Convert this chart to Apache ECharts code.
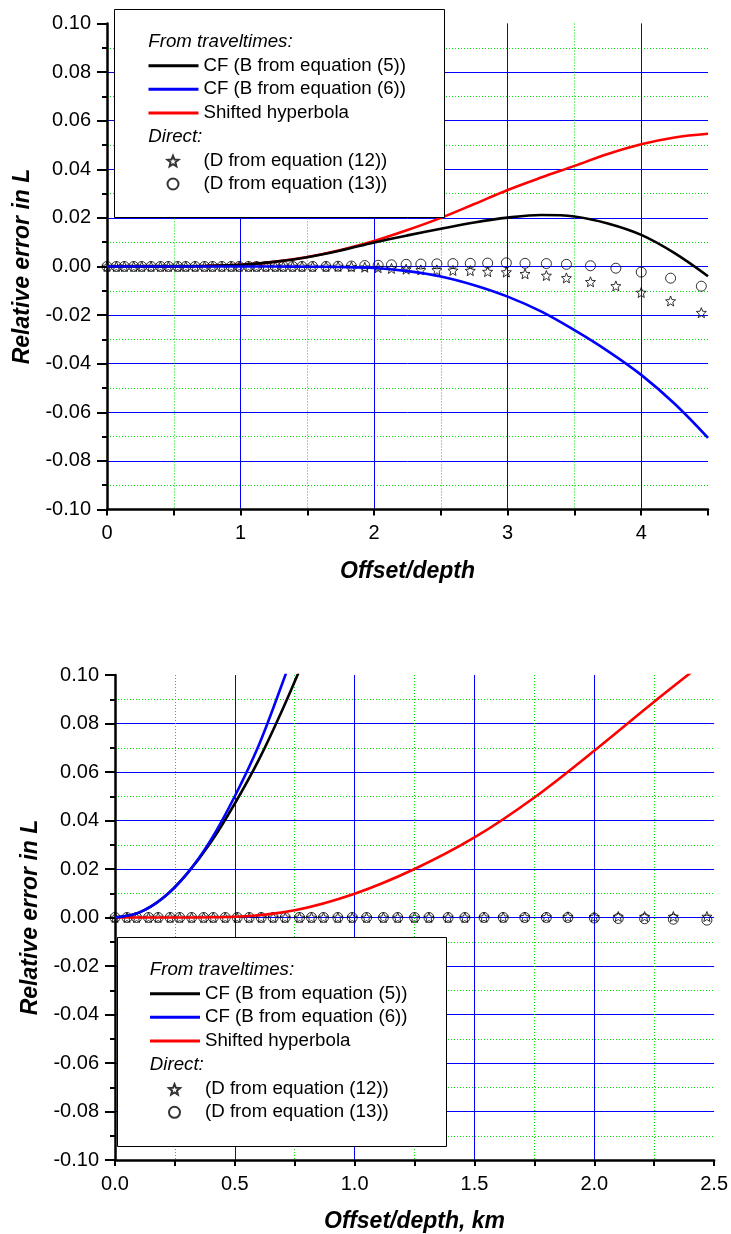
<!DOCTYPE html>
<html><head><meta charset="utf-8">
<script src="https://cdn.jsdelivr.net/npm/echarts@6/dist/echarts.min.js"></script>
<style>html,body{margin:0;padding:0;background:#fff}#c{width:731px;height:1234px}</style>
</head><body><div id="c"></div>
<script>
const FONT = '"Liberation Sans", Arial, sans-serif';

// ---------- Top panel (x = offset/depth) ----------
const topCurveX  = [0,0.25,0.5,0.75,1,1.25,1.5,1.75,2,2.25,2.5,2.75,3,3.25,3.5,3.75,4,4.25,4.5];
const topBlack   = [0,0,0,0.0002,0.0007,0.0019,0.0038,0.0066,0.0099,0.0128,0.0155,0.0181,0.0201,0.0212,0.0206,0.0177,0.0130,0.0055,-0.0040];
const topBlue    = [0,0,0,0,0,0,-0.0001,-0.0002,-0.0006,-0.0019,-0.0041,-0.0077,-0.0124,-0.0185,-0.0262,-0.0348,-0.0446,-0.0565,-0.0705];
const topRed     = [0,0,0,0.0002,0.0007,0.0019,0.0039,0.0068,0.0105,0.0150,0.0200,0.0257,0.0315,0.0366,0.0414,0.0463,0.0503,0.0531,0.0546];
const topMarkX   = [0.00,0.07,0.13,0.20,0.26,0.33,0.40,0.46,0.53,0.59,0.66,0.73,0.79,0.86,0.93,0.99,1.06,1.12,1.19,1.26,1.32,1.39,1.46,1.54,1.64,1.73,1.83,1.93,2.03,2.13,2.24,2.35,2.47,2.59,2.72,2.85,2.99,3.13,3.29,3.44,3.62,3.81,4.00,4.22,4.45];
const topCircleY = [0,0,0,0,0,0,0,0,0,0,0,0,0,0,0,0,0,0,0,0,0,0,0,0,0,0.0001,0.0002,0.0004,0.0005,0.0007,0.0009,0.0010,0.0011,0.0012,0.0013,0.0014,0.0015,0.0013,0.0012,0.0009,0.0003,-0.0007,-0.0023,-0.0048,-0.0081];
const topStarY   = [0,0,0,0,0,0,0,0,0,0,0,0,0,0,0,0,0,0,0,0,0,0,0,0,0,0,-0.0001,-0.0003,-0.0005,-0.0008,-0.0011,-0.0014,-0.0014,-0.0016,-0.0017,-0.0021,-0.0023,-0.0030,-0.0037,-0.0047,-0.0063,-0.0080,-0.0107,-0.0142,-0.0190];

// ---------- Bottom panel (x = offset/depth, km) ----------
const botBlackX  = [0,0.1,0.2,0.3,0.4,0.5,0.6,0.7,0.8];
const botBlack   = [0,0.002,0.008,0.018,0.031,0.047,0.065,0.086,0.109];
const botBlueX   = [0,0.1,0.2,0.3,0.4,0.5,0.6,0.7,0.75];
const botBlue    = [0,0.002,0.008,0.018,0.032,0.050,0.071,0.097,0.111];
const botRedX    = [0,0.25,0.5,0.75,1.0,1.25,1.5,1.75,2.0,2.25,2.5];
const botRed     = [0,0,0.0003,0.0030,0.0098,0.0200,0.0330,0.0495,0.0688,0.0890,0.1085];
const botMarkX   = [0.00,0.05,0.09,0.14,0.18,0.23,0.27,0.32,0.37,0.41,0.46,0.51,0.56,0.61,0.66,0.71,0.77,0.82,0.87,0.93,0.99,1.05,1.12,1.18,1.25,1.31,1.39,1.46,1.54,1.62,1.71,1.80,1.89,2.00,2.10,2.21,2.33,2.47];
const botCircleY = [0,0,0,0,0,0,0,0,0,0,0,0,0,0,0,0,0,0,0,0,0,0,0,0,0,0,0,0,0,0,0,0,0,-0.0002,-0.0004,-0.0005,-0.0007,-0.0011];
const botStarY   = [0,0,0,0,0,0,0,0,0,0,0,0,0,0,0,0,0,0,0,0,0,0,0,0,0,0,0,0,0.0001,0.0001,0.0002,0.0002,0.0003,0.0003,0.0004,0.0004,0.0004,0.0004];

const yTicks = [-0.10,-0.08,-0.06,-0.04,-0.02,0.00,0.02,0.04,0.06,0.08,0.10];

const N_CF5 = 'CF (B from equation (5))';
const N_CF6 = 'CF (B from equation (6))';
const N_SH  = 'Shifted hyperbola';
const N_D12 = '(D from equation (12))';
const N_D13 = '(D from equation (13))';

const STAR = 'path://M50,0L62.9,32.2L97.6,34.5L70.9,56.8L79.4,90.5L50,72L20.6,90.5L29.1,56.8L2.4,34.5L37.1,32.2Z';

function pairs(xs, ys){ return xs.map((x,i)=>[x, ys[i]]); }

const BLUE = '#0000ff', GREEN = '#00dd00';
const tickFont = {fontSize:20, color:'#000', fontFamily:FONT};
const titleFont = {fontSize:23, fontWeight:'bold', fontStyle:'italic', color:'#000', fontFamily:FONT};

function yAxisDef(grid){
  return {
    gridIndex:grid, type:'value', min:yTicks[0], max:yTicks[yTicks.length-1], interval:0.02,
    name:'Relative error in L', nameLocation:'middle', nameGap:73, nameTextStyle:titleFont,
    axisLine:{show:true, onZero:false, lineStyle:{color:'#000', width:2.5}},
    axisTick:{show:true, inside:false, length:10, lineStyle:{color:'#000', width:2}},
    minorTick:{show:true, splitNumber:2, length:5, lineStyle:{color:'#000', width:2}},
    axisLabel:{...tickFont, margin:16, formatter:v => (Math.abs(v)<1e-9 ? 0 : v).toFixed(2)},
    splitLine:{show:true, showMinLine:false, showMaxLine:false, lineStyle:{color:BLUE, width:1}},
    minorSplitLine:{show:true, lineStyle:{color:GREEN, width:1, type:[1,2]}}
  };
}

const xAxes = [
  // top minor (0.5 steps) – green dotted grid + ticks
  { gridIndex:0, type:'value', min:0, max:4.5, interval:0.5, position:'bottom',
    axisLine:{show:false, onZero:false}, axisLabel:{show:false},
    axisTick:{show:true, length:6, lineStyle:{color:'#000', width:2}},
    splitLine:{show:true, showMinLine:false, showMaxLine:false, lineStyle:{color:GREEN, width:1, type:[1,2]}} },
  // top main (1 steps)
  { gridIndex:0, type:'value', min:0, max:4.5, interval:1, position:'bottom',
    name:'Offset/depth', nameLocation:'middle', nameGap:51, nameTextStyle:titleFont,
    axisLine:{show:true, onZero:false, lineStyle:{color:'#000', width:2.5}},
    axisTick:{show:true, length:6, lineStyle:{color:'#000', width:2}},
    axisLabel:{...tickFont, margin:14, formatter:v => (Math.abs(v - Math.round(v))<1e-9 ? String(Math.round(v)) : '')},
    splitLine:{show:true, showMinLine:false, showMaxLine:false, lineStyle:{color:BLUE, width:1}} },
  // bottom
  { gridIndex:1, type:'value', min:0, max:2.5, interval:0.5, position:'bottom',
    name:'Offset/depth, km', nameLocation:'middle', nameGap:50, nameTextStyle:titleFont,
    axisLine:{show:true, onZero:false, lineStyle:{color:'#000', width:2.5}},
    axisTick:{show:true, length:6, lineStyle:{color:'#000', width:2}},
    minorTick:{show:true, splitNumber:2, length:6, lineStyle:{color:'#000', width:2}},
    axisLabel:{...tickFont, margin:14, formatter:v => v.toFixed(1)},
    splitLine:{show:true, showMinLine:false, showMaxLine:false, lineStyle:{color:BLUE, width:1}},
    minorSplitLine:{show:true, lineStyle:{color:GREEN, width:1, type:[1,2]}} }
];

function lineSeries(name, color, xi, yi, data){
  return {type:'line', name, xAxisIndex:xi, yAxisIndex:yi, data, symbol:'none', smooth:0.35,
    lineStyle:{color, width:2.6}, itemStyle:{color}, clip:true, silent:true, z:3};
}
function markSeries(name, symbol, xi, yi, data){
  return {type:'scatter', name, xAxisIndex:xi, yAxisIndex:yi, data, symbol, symbolSize:10,
    itemStyle:{color:'rgba(0,0,0,0)', borderColor:'#000', borderWidth:1}, silent:true, z:2};
}

function lineLegend(left, top){
  return {orient:'vertical', left, top, padding:0, itemWidth:50, itemHeight:14, itemGap:4.6,
    selectedMode:false, z:6,
    itemStyle:{color:'rgba(0,0,0,0)', borderWidth:0, borderColor:'rgba(0,0,0,0)'},
    lineStyle:{width:3},
    textStyle:{fontSize:18.7, fontFamily:FONT, color:'#000', lineHeight:19},
    data:[N_CF5, N_CF6, N_SH]};
}
function markLegend(left, top){
  return {orient:'vertical', left, top, padding:0, itemWidth:11, itemHeight:11, itemGap:4,
    selectedMode:false, z:6,
    textStyle:{fontSize:18.7, fontFamily:FONT, color:'#000', lineHeight:19, padding:[0,0,0,20]},
    data:[N_D12, N_D13]};
}
function header(x, y, text){
  return {type:'text', x, y, z:5, style:{text, fontSize:18.7, fontStyle:'italic', fontFamily:FONT, fill:'#000', verticalAlign:'middle'}};
}

const option = {
  animation:false,
  backgroundColor:'#fff',
  grid:[
    {left:107, top:23.5, width:601, height:486},
    {left:115, top:675, width:600, height:485}
  ],
  xAxis:xAxes,
  yAxis:[yAxisDef(0), yAxisDef(1)],
  legend:[
    lineLegend(147, 56.2), markLegend(166.5, 151.5),
    lineLegend(148.5, 984.2), markLegend(168, 1079.8)
  ],
  graphic:[
    {type:'rect', z:4, shape:{x:114.5, y:9.5, width:330, height:208}, style:{fill:'#fff', stroke:'#000', lineWidth:1}},
    header(148.3, 41.7, 'From traveltimes:'),
    header(148.3, 136.7, 'Direct:'),
    {type:'rect', z:4, shape:{x:117.5, y:937.5, width:329, height:209}, style:{fill:'#fff', stroke:'#000', lineWidth:1}},
    header(149.8, 970, 'From traveltimes:'),
    header(149.8, 1065, 'Direct:')
  ],
  series:[
    markSeries(N_D12, STAR, 1, 0, pairs(topMarkX, topStarY)),
    markSeries(N_D13, 'circle', 1, 0, pairs(topMarkX, topCircleY)),
    lineSeries(N_SH,  '#ff0000', 1, 0, pairs(topCurveX, topRed)),
    lineSeries(N_CF5, '#000000', 1, 0, pairs(topCurveX, topBlack)),
    lineSeries(N_CF6, '#0000ff', 1, 0, pairs(topCurveX, topBlue)),
    markSeries(N_D12, STAR, 2, 1, pairs(botMarkX, botStarY)),
    markSeries(N_D13, 'circle', 2, 1, pairs(botMarkX, botCircleY)),
    lineSeries(N_SH,  '#ff0000', 2, 1, pairs(botRedX, botRed)),
    lineSeries(N_CF5, '#000000', 2, 1, pairs(botBlackX, botBlack)),
    lineSeries(N_CF6, '#0000ff', 2, 1, pairs(botBlueX, botBlue))
  ]
};
const chart = echarts.init(document.getElementById('c'), null, {renderer:'canvas', width:731, height:1234});
chart.setOption(option);
</script></body></html>
